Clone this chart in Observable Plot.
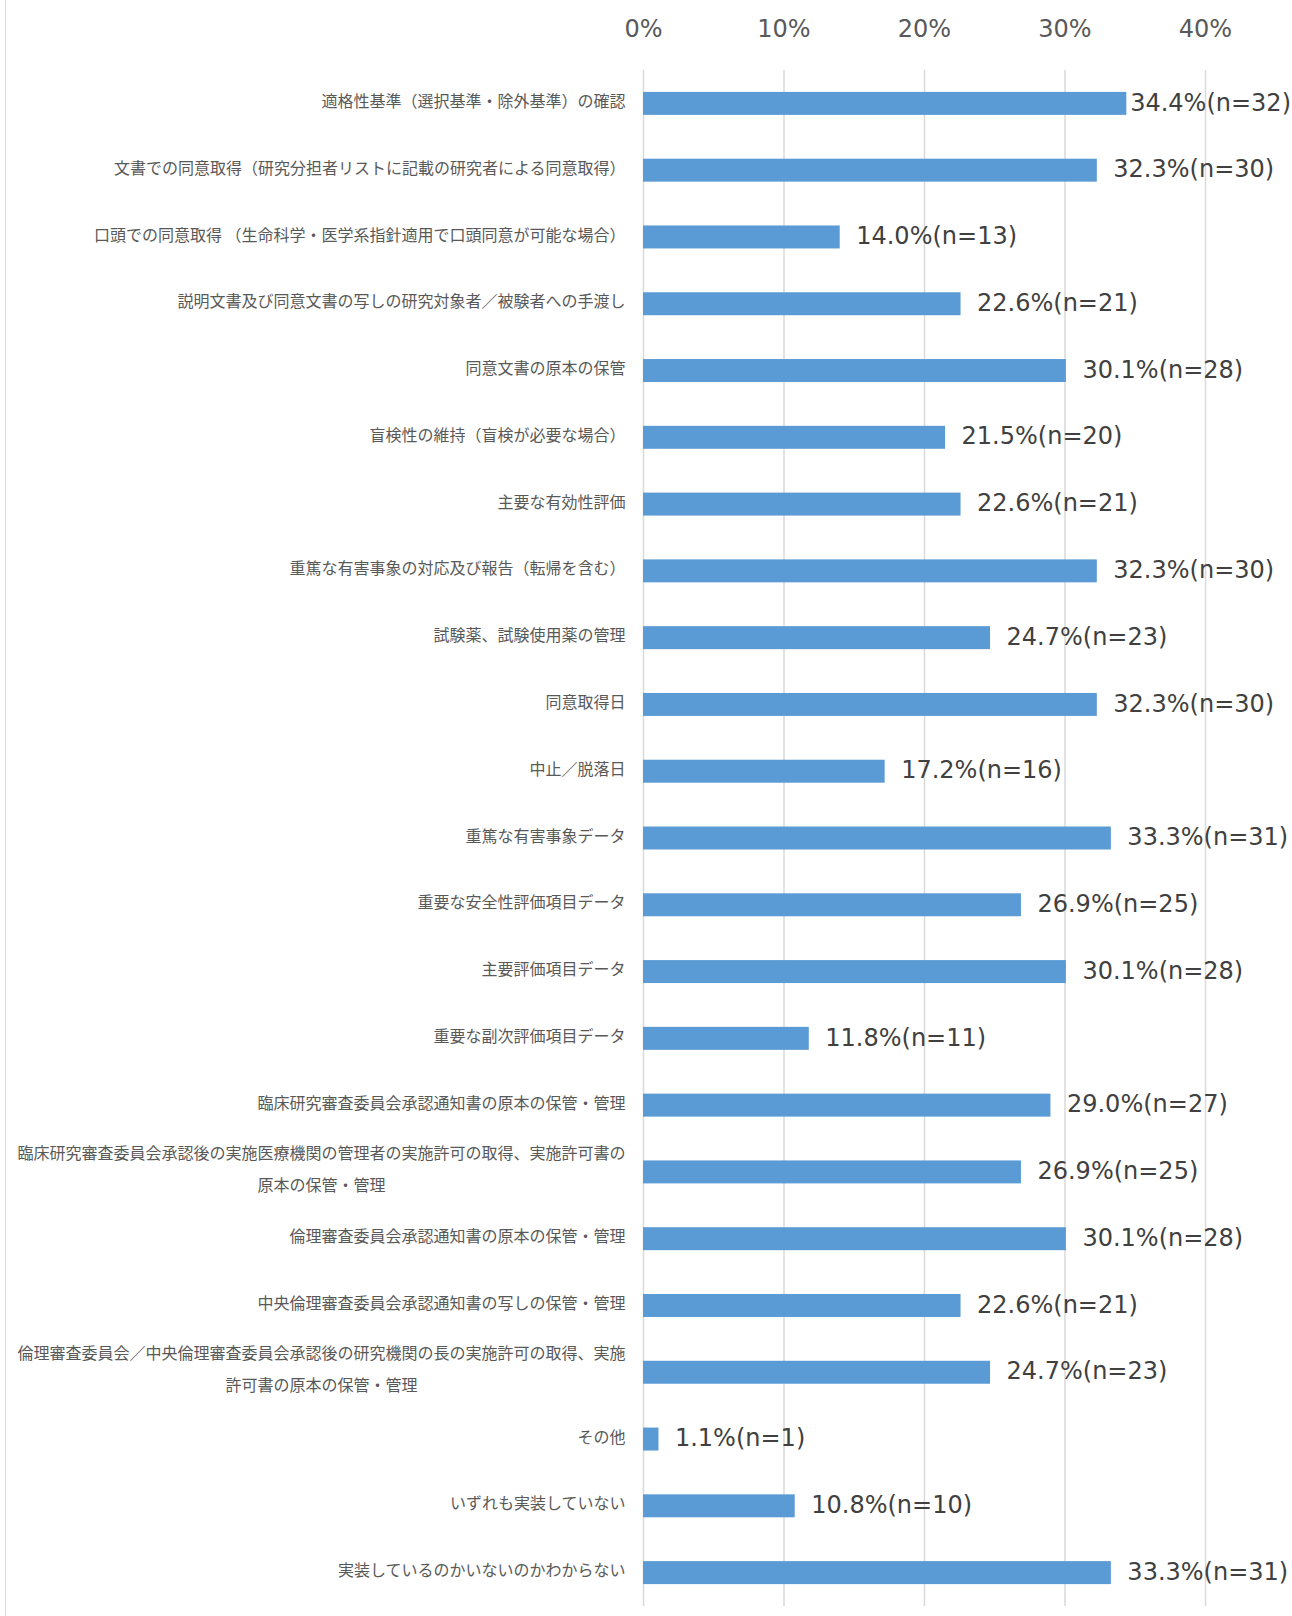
<!DOCTYPE html>
<html><head><meta charset="utf-8">
<script src="https://cdn.jsdelivr.net/npm/d3@7"></script>
<script src="https://cdn.jsdelivr.net/npm/@observablehq/plot@0.6"></script>
<style>
body{margin:0;background:#fff;}
#chart{position:relative;width:1292px;height:1616px;overflow:hidden;background:#fff;}
#chart::before{content:"";position:absolute;left:5px;top:0;bottom:0;border-left:1.5px solid #d9d9d9;}
#chart svg{position:absolute;left:0;top:0;}
</style></head><body><div id="chart"></div>
<script>
const categories = [
  "適格性基準（選択基準・除外基準）の確認",
  "文書での同意取得（研究分担者リストに記載の研究者による同意取得）",
  "口頭での同意取得 （生命科学・医学系指針適用で口頭同意が可能な場合）",
  "説明文書及び同意文書の写しの研究対象者／被験者への手渡し",
  "同意文書の原本の保管",
  "盲検性の維持（盲検が必要な場合）",
  "主要な有効性評価",
  "重篤な有害事象の対応及び報告（転帰を含む）",
  "試験薬、試験使用薬の管理",
  "同意取得日",
  "中止／脱落日",
  "重篤な有害事象データ",
  "重要な安全性評価項目データ",
  "主要評価項目データ",
  "重要な副次評価項目データ",
  "臨床研究審査委員会承認通知書の原本の保管・管理",
  "臨床研究審査委員会承認後の実施医療機関の管理者の実施許可の取得、実施許可書の\n原本の保管・管理",
  "倫理審査委員会承認通知書の原本の保管・管理",
  "中央倫理審査委員会承認通知書の写しの保管・管理",
  "倫理審査委員会／中央倫理審査委員会承認後の研究機関の長の実施許可の取得、実施\n許可書の原本の保管・管理",
  "その他",
  "いずれも実装していない",
  "実装しているのかいないのかわからない"
];
const percents = [34.4, 32.3, 14.0, 22.6, 30.1, 21.5, 22.6, 32.3, 24.7, 32.3, 17.2, 33.3, 26.9, 30.1, 11.8, 29.0, 26.9, 30.1, 22.6, 24.7, 1.1, 10.8, 33.3];
const counts = [32, 30, 13, 21, 28, 20, 21, 30, 23, 30, 16, 31, 25, 28, 11, 27, 25, 28, 21, 23, 1, 10, 31];
const xTicks = [0, 0.1, 0.2, 0.3, 0.4];
const tickLabels = ["0%", "10%", "20%", "30%", "40%"];

const data = categories.map((c, i) => ({
  category: c,
  pct: percents[i] / 100,
  label: `${percents[i].toFixed(1)}%(n=${counts[i]})`
}));

const cjk = '"Noto Sans CJK JP", "Noto Sans", sans-serif';
const latin = '"DejaVu Sans", sans-serif';
const single = data.filter(d => !d.category.includes("\n"));
const multi = data.filter(d => d.category.includes("\n"));

const ctx = document.createElement("canvas").getContext("2d");
ctx.font = `16px ${cjk}`;
const multiMarks = multi.map(d => {
  const w = ctx.measureText(d.category.split("\n")[0]).width;
  return Plot.text([d], {
    x: () => 0, y: "category", text: "category",
    textAnchor: "middle", lineHeight: 2, dx: -(18 + w / 2), dy: -8,
    fontSize: 16, fontFamily: cjk, fill: "#595959"
  });
});

const chart = Plot.plot({
  width: 1292,
  height: 1616,
  marginLeft: 643,
  marginRight: 87,
  marginTop: 70,
  marginBottom: 10,
  style: {background: "transparent", overflow: "visible"},
  x: {domain: [0, 0.4], label: null},
  y: {domain: categories, axis: null, paddingInner: 0.656, paddingOuter: 0.328, round: false},
  marks: [
    Plot.gridX(xTicks, {stroke: "#d9d9d9", strokeOpacity: 1, strokeWidth: 1.5}),
    Plot.barX(data, {x: "pct", y: "category", fill: "#5B9BD5"}),
    Plot.axisX(xTicks, {
      anchor: "top", tickSize: 0, tickPadding: 34, label: null,
      tickFormat: d => tickLabels[xTicks.indexOf(d)],
      fontSize: 24, fontFamily: latin, fill: "#595959"
    }),
    Plot.text(single, {
      x: () => 0, y: "category", text: "category",
      textAnchor: "end", dx: -18, dy: -2,
      fontSize: 16, fontFamily: cjk, fill: "#595959"
    }),
    ...multiMarks,
    Plot.text(data, {
      x: "pct", y: "category", text: "label",
      textAnchor: "start", dx: 16, dy: -1,
      fontSize: 24, fontFamily: latin, fill: "#404040",
      className: "vlabels"
    })
  ]
});
document.getElementById("chart").appendChild(chart);

// keep value labels inside the chart area, as the original does
const svgRect = chart.getBoundingClientRect();
chart.querySelectorAll(".vlabels text").forEach(t => {
  const r = t.getBoundingClientRect();
  const over = (r.right - svgRect.left) - 1291;
  if (over > 0) {
    t.setAttribute("transform", ((t.getAttribute("transform") || "") + ` translate(${-over},0)`).trim());
  }
});
</script>
</body></html>
